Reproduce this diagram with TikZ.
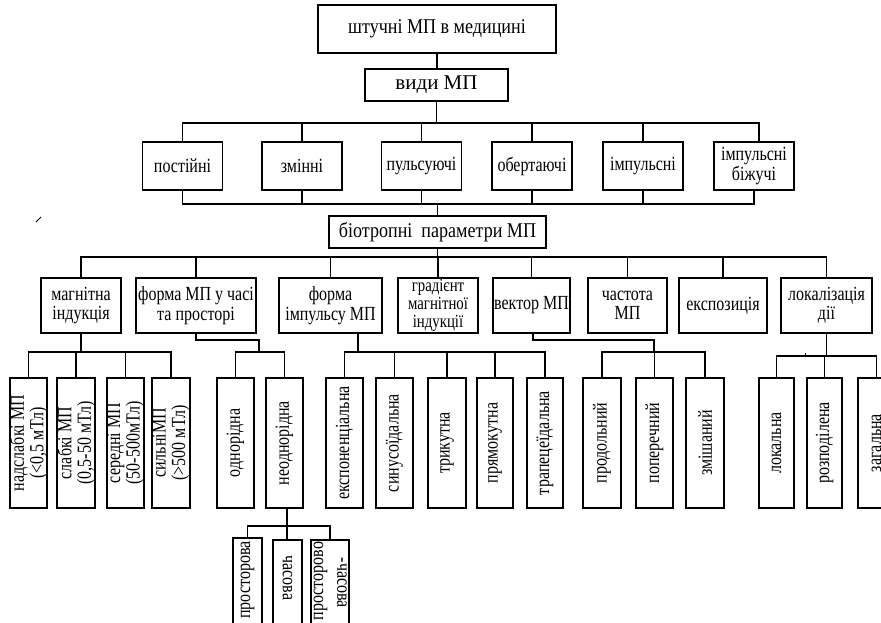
\documentclass[tikz,border=0pt]{standalone}
\usepackage{fontspec}
\setmainfont{Liberation Serif}[FakeStretch=0.8]
\newfontfamily\bigfam{Liberation Serif}[FakeStretch=0.86]
\newfontfamily\widefam{Liberation Serif}
\usetikzlibrary{calc}
\newcommand\fsBig{\bigfam\fontsize{21}{22}\selectfont}
\newcommand\fsWide{\widefam\fontsize{21}{22}\selectfont}
\newcommand\fsMid{\fontsize{20}{19.5}\selectfont}
\newcommand\fsTri{\fontsize{18.5}{18}\selectfont}
\begin{document}
\begin{tikzpicture}[x=1pt,y=-1pt,line width=1.1pt,
  box/.style={draw, inner sep=0pt, align=center, font=\fsMid},
  tbox/.style={box, minimum width=80pt, minimum height=48pt},
  mbox/.style={box, minimum height=55pt},
  vbox/.style={draw, inner sep=0pt, minimum height=130pt},
  sbox/.style={draw, inner sep=0pt, minimum height=104pt},
  vt/.style={rotate=90, inner sep=0pt, align=center, font=\fsMid},
  vtr/.style={rotate=-90, inner sep=0pt, align=center, font=\fsMid}]
\useasboundingbox (0,0) rectangle (881,623);
% bus levels
\coordinate (bus1) at (0,123);
\coordinate (bus2) at (0,204);
\coordinate (bus3) at (0,257);
\coordinate (busA) at (0,352);
\coordinate (busC) at (0,356);
\coordinate (busD) at (0,526);
% level 0-1
\node[box, font=\fsBig, minimum width=238pt, minimum height=48pt] (top) at (437,29) {штучні МП в медицині};
\node[box, font=\fsWide, minimum width=143pt, minimum height=32pt] (vydy) at (436.5,85) {види МП};
% types
\node[tbox] (p1) at (182.5,166) {постійні};
\node[tbox] (p2) at (302,166) {змінні};
\node[tbox] (p3) at (421.5,166) {пульсуючі};
\node[tbox] (p4) at (532,166) {обертаючі};
\node[tbox] (p5) at (643,166) {імпульсні};
\node[tbox] (p6) at (754,166) {імпульсні\\біжучі};
\coordinate (p6n) at ($(p6.north)+(5,0)$);
% biotropic
\node[box, font=\fsBig, minimum width=217pt, minimum height=32pt] (bio) at (437.5,232) {біотропні\ \ параметри МП};
% level 3
\node[mbox, minimum width=80pt] (m1) at (81,305.5) {магнітна\\індукція};
\node[mbox, minimum width=120pt] (m2) at (196,305.5) {форма МП у часі\\та просторі};
\node[mbox, minimum width=103pt] (m3) at (330.5,305.5) {форма\\імпульсу МП};
\node[mbox, minimum width=80pt, font=\fsTri] (m4) at (438,305.5) {градієнт\\магнітної\\індукції};
\node[mbox, minimum width=77pt] (m5) at (531.5,305.5) {вектор МП};
\node[mbox, minimum width=79pt] (m6) at (627.5,305.5) {частота\\МП};
\node[mbox, minimum width=88pt] (m7) at (723,305.5) {експозиція};
\node[mbox, minimum width=91pt] (m8) at (826.5,305.5) {локалізація\\дії};
% level 4: magnetic induction
\node[vbox, minimum width=37pt] (a1) at (28.5,443) {};
\node[vbox, minimum width=38pt] (a2) at (76,443) {};
\node[vbox, minimum width=37pt] (a3) at (125.5,443) {};
\node[vbox, minimum width=38pt] (a4) at (171,443) {};
\node[vt] (a1t) at (a1) {надслабкі МП\\(<0,5 мТл)};
\node[vt] (a2t) at (a2) {слабкі МП\\(0,5-50 мТл)};
\node[vt] (a3t) at (a3) {середні МП\\(50-500мТл)};
\node[vt] (a4t) at (a4) {сильніМП\\(>500 мТл)};
% form in time and space
\node[vbox, minimum width=37pt] (b1) at (235.5,443) {};
\node[vbox, minimum width=37pt] (b2) at (284.5,443) {};
\node[vt] (b1t) at (b1) {однорідна};
\node[vt] (b2t) at (b2) {неоднорідна};
% pulse form
\node[vbox, minimum width=37pt] (c1) at (344.5,443) {};
\node[vbox, minimum width=37pt] (c2) at (394.5,443) {};
\node[vbox, minimum width=38pt] (c3) at (447,443) {};
\node[vbox, minimum width=36pt] (c4) at (495,443) {};
\node[vbox, minimum width=36pt] (c5) at (545,443) {};
\node[vt] (c1t) at (c1) {експоненціальна};
\node[vt] (c2t) at (c2) {синусоїдальна};
\node[vt] (c3t) at (c3) {трикутна};
\node[vt] (c4t) at (c4) {прямокутна};
\node[vt] (c5t) at (c5) {трапецеїдальна};
% vector
\node[vbox, minimum width=38pt] (d1) at (602,443) {};
\node[vbox, minimum width=37pt] (d2) at (654.5,443) {};
\node[vbox, minimum width=38pt] (d3) at (705,443) {};
\node[vt] (d1t) at (d1) {продольний};
\node[vt] (d2t) at (d2) {поперечний};
\node[vt] (d3t) at (d3) {змішаний};
% localisation
\node[vbox, minimum width=35pt] (e1) at (776.5,443) {};
\node[vbox, minimum width=35pt] (e2) at (824.5,443) {};
\node[vbox, minimum width=37pt] (e3) at (876.5,443) {};
\node[vt] (e1t) at (e1) {локальна};
\node[vt] (e2t) at (e2) {розподілена};
\node[vt] (e3t) at (e3) {загальна};
% level 5: non-uniform
\node[sbox, minimum width=29pt] (f1) at (247.5,590) {};
\node[sbox, minimum width=29pt] (f2) at (287.5,592) {};
\node[sbox, minimum width=38pt] (f3) at (330,592) {};
\node[vt] (f1t) at (247.5,580) {просторова};
\node[vtr] (f2t) at (287.5,578) {часова};
\node[vt] (f3t) at (320.5,581) {просторово};
\node[vtr] (f3u) at (342,583) {-часова};
% ---- connectors ----
\draw (top.south) -- (top.south |- vydy.north);
\draw (vydy.south) -- (vydy.south |- bus1);
\draw (p1.north) |- (bus1 -| p6n) -- (p6n);
\foreach \n in {p2,p3,p4,p5} \draw (\n.north) -- (\n.north |- bus1);
\draw (p1.south) |- (bus2 -| p6.south) -- (p6.south);
\foreach \n in {p2,p3,p4,p5} \draw (\n.south) -- (\n.south |- bus2);
\draw (bio.north |- bus2) -- (bio.north);
\draw (bio.south) -- (bio.south |- bus3);
\draw (m1.north) |- (bus3 -| m8.north) -- (m8.north);
\foreach \n in {m2,m3,m4,m5,m6,m7} \draw (\n.north) -- (\n.north |- bus3);
% magnetic induction subtree
\draw (m1.south) -- (m1.south |- busA);
\draw (a1.north) |- (busA -| a4.north) -- (a4.north);
\foreach \n in {a2,a3} \draw (\n.north) -- (\n.north |- busA);
% form in time subtree
\coordinate (m2k) at (259,340);
\draw (m2.south) |- (m2k) -- (m2k |- busA);
\draw (b1.north) |- (busA -| b2.north) -- (b2.north);
% pulse form subtree
\coordinate (m3d) at (358,333);
\draw (m3d) -- (m3d |- busA);
\draw (c1.north) |- (busA -| c5.north) -- (c5.north);
\foreach \n in {c2,c3,c4} \draw (\n.north) -- (\n.north |- busA);
% vector subtree
\coordinate (m5d) at (533,333);
\coordinate (m5k) at (654,340);
\draw (m5d) |- (m5k) -- (m5k |- busA);
\draw (d1.north) |- (busA -| d3.north) -- (d3.north);
\draw (d2.north) -- (d2.north |- busA);
% localisation subtree
\draw (m8.south) -- (m8.south |- busC);
\draw (e1.north) |- (busC -| e3.north) -- (e3.north);
\draw (e2.north) -- (e2.north |- busC);
\coordinate (tick) at (805,353);
\draw[line width=0.8pt] (tick) -- (tick |- busC);
% non-uniform subtree
\coordinate (b2d) at (287,508);
\draw (b2d) -- (b2d |- f2.north);
\draw (f1.north) |- (busD -| f3.north) -- (f3.north);
% stray mark
\coordinate (sm1) at (36,222);
\coordinate (sm2) at (41,217);
\draw[line width=0.8pt] (sm1) -- (sm2);
\end{tikzpicture}
\end{document}
